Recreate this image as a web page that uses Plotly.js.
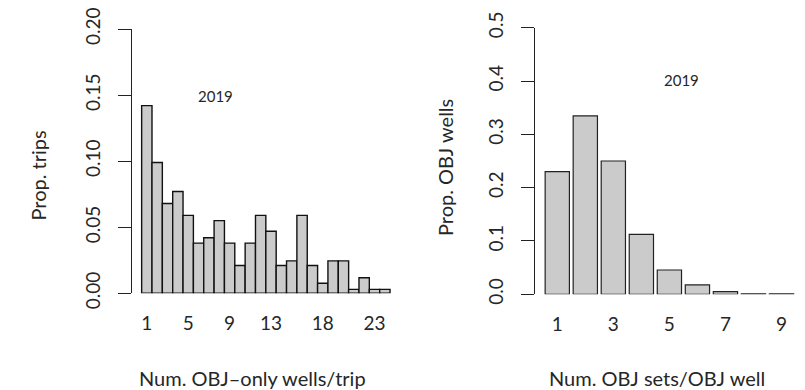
<!DOCTYPE html>
<html>
<head>
<meta charset="utf-8">
<script src="https://cdn.plot.ly/plotly-3.0.1.min.js"></script>
<style>html,body{margin:0;padding:0;background:#fff;}#chart{width:805px;height:390px;}</style>
</head>
<body>
<div id="chart"></div>
<script>
// Left panel: Num. OBJ-only wells/trip
const wellsPerTrip = [1,2,3,4,5,6,7,8,9,10,11,12,13,14,15,16,17,18,19,20,21,22,23,24];
const propTrips = [0.142,0.099,0.068,0.077,0.059,0.038,0.042,0.055,0.038,0.021,0.038,0.059,0.047,0.021,0.0245,0.059,0.021,0.0076,0.0245,0.0245,0.003,0.0118,0.003,0.003];
const leftTicks = [1,5,9,13,18,23];
const leftYTicks = [0,0.05,0.10,0.15,0.20];
const leftYLabels = ["0.00","0.05","0.10","0.15","0.20"];

// Right panel: Num. OBJ sets/OBJ well
const setsPerWell = [1,2,3,4,5,6,7,8,9];
const propWells = [0.230,0.3345,0.250,0.1125,0.0456,0.0175,0.005,0.001,0.001];
const rightTicks = [1,3,5,7,9];
const rightYTicks = [0,0.1,0.2,0.3,0.4,0.5];
const rightYLabels = ["0.0","0.1","0.2","0.3","0.4","0.5"];

const FONT = "Lato, 'Open Sans', sans-serif";
const TXT = '#262626';
const fill = "#cbcbcb";

const traces = [
  {type:'bar', x:wellsPerTrip, y:propTrips, xaxis:'x', yaxis:'y', width:1,
   marker:{color:fill, line:{color:'#111', width:1.4}}, hoverinfo:'none'},
  {type:'bar', x:setsPerWell, y:propWells, xaxis:'x2', yaxis:'y2', width:0.866,
   marker:{color:fill, line:{color:'#222', width:1.2}}, hoverinfo:'none'}
];

const yCommon = {showline:true, linecolor:'#222', linewidth:1, ticks:'outside', ticklen:13, tickcolor:'#222',
  showgrid:false, zeroline:false, tickangle:-90, tickfont:{family:FONT, size:19, color:TXT}, ticklabelstandoff:10};
const xCommon = {showline:false, showgrid:false, zeroline:false, ticks:'', tickfont:{family:FONT, size:19, color:TXT}, ticklabelstandoff:17};

const ann = (text, x, y, size, angle) => ({text:text, xref:'paper', yref:'paper', x:x/805, y:1-y/390,
  xanchor:'center', yanchor:'middle', textangle:angle||0, showarrow:false, font:{family:FONT, size:size, color:TXT}});

const layout = {
  width:805, height:390, margin:{l:0,r:0,t:0,b:0},
  paper_bgcolor:'#fff', plot_bgcolor:'#fff', showlegend:false,
  xaxis: Object.assign({}, xCommon, {domain:[131.5/805, 395/805], range:[-0.48, 24.98], tickvals:leftTicks, ticktext:leftTicks.map(String), anchor:'y'}),
  yaxis: Object.assign({}, yCommon, {domain:[1-293.3/390, 1-29/390], range:[0,0.2], tickvals:leftYTicks, ticktext:leftYLabels, anchor:'x'}),
  xaxis2: Object.assign({}, xCommon, {domain:[535/805, 800/805], range:[0.205, 9.66], tickvals:rightTicks, ticktext:rightTicks.map(String), anchor:'y2'}),
  yaxis2: Object.assign({}, yCommon, {domain:[1-294.3/390, 1-27.7/390], range:[0,0.5], tickvals:rightYTicks, ticktext:rightYLabels, anchor:'x2'}),
  annotations:[
    ann('2019', 216, 96, 15),
    ann('2019', 681, 80, 15),
    ann('Prop. trips', 37.5, 176, 20, -90),
    ann('Prop. OBJ wells', 445, 168, 20, -90),
    ann('Num. OBJ\u2013only wells/trip', 252, 378, 20),
    ann('Num. OBJ sets/OBJ well', 657, 378, 20)
  ]
};

Plotly.newPlot('chart', traces, layout, {displayModeBar:false, staticPlot:true});
</script>
</body>
</html>
